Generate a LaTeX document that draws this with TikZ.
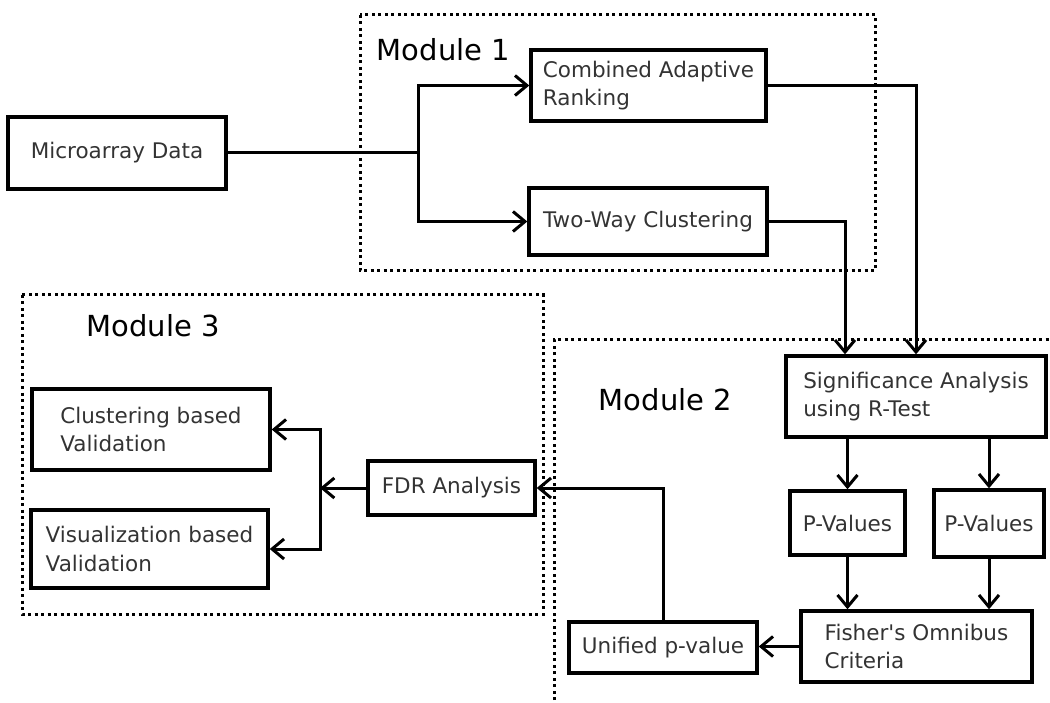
\documentclass[tikz,border=0pt]{standalone}
\usepackage{fontspec}
\usetikzlibrary{arrows.meta}
\newfontfamily\dvsans{DejaVu Sans}

\tikzset{
  box/.style={draw, line width=3.4pt, rectangle, inner xsep=6pt, inner ysep=0pt,
    align=left, text=black!80, font=\dvsans\fontsize{21.5pt}{28.5pt}\selectfont},
  conn/.style={line width=3pt,
    -{Straight Barb[length=12pt, width=20pt, line width=3pt]}},
  plain/.style={line width=3pt},
  module/.style={line width=3pt, dash pattern=on 3pt off 3.5pt},
  modlabel/.style={anchor=base, text=black, font=\dvsans\fontsize{29pt}{34pt}\selectfont}
}

\begin{document}
\begin{tikzpicture}[x=1pt, y=-1pt]
\useasboundingbox (0,0) rectangle (1050,703);

% module frames
\draw[module] (360,15) rectangle (875,271);
\draw[module] (22,295) rectangle (543,614);
\draw[module] (554,700) -- (554,340) -- (1050,340);

\node[modlabel] (m1) at (443.5,61) {Module 1};
\node[modlabel] (m2) at (665.5,410) {Module 2};
\node[modlabel] (m3) at (153,337) {Module 3};

% process boxes
\node[box, minimum width=218pt, minimum height=72pt] (micro) at (117,153) {Microarray Data};
\node[box, minimum width=235pt, minimum height=71pt] (comb) at (648.5,85.5) {Combined Adaptive\\Ranking};
\node[box, minimum width=238pt, minimum height=67pt] (twoway) at (648,221.5) {Two-Way Clustering};
\node[box, minimum width=260pt, minimum height=81pt] (sig) at (916,396.5) {Significance Analysis\\using R-Test};
\node[box, minimum width=115pt, minimum height=64pt] (pv1) at (847.5,523) {P-Values};
\node[box, minimum width=110pt, minimum height=67pt] (pv2) at (989,523.5) {P-Values};
\node[box, minimum width=231pt, minimum height=71pt] (fisher) at (916.5,646.5) {Fisher's Omnibus\\Criteria};
\node[box, minimum width=188pt, minimum height=51pt] (unified) at (663,647.5) {Unified p-value};
\node[box, minimum width=167pt, minimum height=54pt] (fdr) at (451.5,488) {FDR Analysis};
\node[box, minimum width=238pt, minimum height=81pt] (clust) at (151,429.5) {Clustering based\\Validation};
\node[box, minimum width=237pt, minimum height=78pt] (visual) at (149.5,549) {Visualization based\\Validation};

% branch points
\coordinate (split) at (418,153);
\coordinate (join) at (320,488);

% connectors
\draw[plain] (micro.east) -- (split);
\draw[conn] (split) |- (comb.west);
\draw[conn] (split) |- (twoway.west);
\draw[conn] (comb.east) -| (sig.north);
\draw[conn] (twoway.east) -| ([xshift=-71pt]sig.north);
\draw[conn] (pv1.north |- sig.south) -- (pv1.north);
\draw[conn] (pv2.north |- sig.south) -- (pv2.north);
\draw[conn] (pv1.south) -- (pv1.south |- fisher.north);
\draw[conn] (pv2.south) -- (pv2.south |- fisher.north);
\draw[conn] (fisher.west) -- (fisher.west -| unified.east);
\draw[conn] (unified.north) |- (fdr.east);
\draw[conn] (fdr.west) -- (join);
\draw[conn] (join) |- (clust.east);
\draw[conn] (join) |- (visual.east);
\end{tikzpicture}
\end{document}
